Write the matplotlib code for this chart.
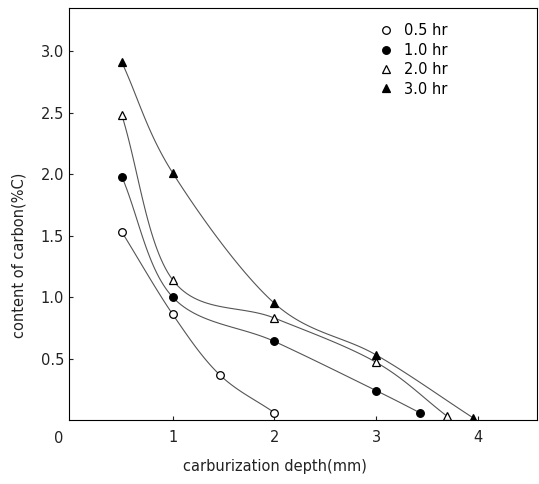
import numpy as np
import matplotlib
matplotlib.use('Agg')
import matplotlib.pyplot as plt

# depth (mm) and carbon content (%C)
x_05 = [0.5, 1.0, 1.46, 2.0]
y_05 = [1.53, 0.86, 0.37, 0.06]
x_10 = [0.5, 1.0, 2.0, 3.0, 3.43]
y_10 = [1.98, 1.00, 0.64, 0.24, 0.06]
x_20 = [0.5, 1.0, 2.0, 3.0, 3.70]
y_20 = [2.48, 1.14, 0.83, 0.47, 0.03]
x_30 = [0.5, 1.0, 2.0, 3.0, 3.95]
y_30 = [2.91, 2.01, 0.95, 0.53, 0.02]

labels = ['0.5 hr', '1.0 hr', '2.0 hr', '3.0 hr']
markers = ['o', 'o', '^', '^']
fills = ['white', 'black', 'white', 'black']
y_ticks = [0.5, 1.0, 1.5, 2.0, 2.5, 3.0]
x_ticks = [1, 2, 3, 4]


def smooth(xs, ys, n=30):
    # catmull-rom through the read points, only for drawing the curve
    p = np.column_stack([xs, ys]).astype(float)
    p = np.vstack([2 * p[0] - p[1], p, 2 * p[-1] - p[-2]])
    out = []
    t = np.linspace(0, 1, n)[:, None]
    for i in range(1, len(p) - 2):
        p0, p1, p2, p3 = p[i - 1], p[i], p[i + 1], p[i + 2]
        seg = 0.5 * ((2 * p1) + (-p0 + p2) * t + (2 * p0 - 5 * p1 + 4 * p2 - p3) * t ** 2
                     + (-p0 + 3 * p1 - 3 * p2 + p3) * t ** 3)
        out.append(seg)
    out = np.vstack(out)
    return out[:, 0], out[:, 1]


fig = plt.figure(figsize=(5.39, 4.84), dpi=100)
ax = fig.add_axes([0.128, 0.132, 0.868, 0.851])

series = [(x_05, y_05), (x_10, y_10), (x_20, y_20), (x_30, y_30)]
for (xs, ys), lab, m, fc in zip(series, labels, markers, fills):
    sx, sy = smooth(xs, ys)
    ax.plot(sx, sy, color='#555555', lw=0.8)
    ax.plot(xs, ys, ls='none', marker=m, ms=5.5, mfc=fc, mec='black', mew=0.9, label=lab)

ax.set_xlim(-0.02, 4.58)
ax.set_ylim(0, 3.35)
ax.set_xticks(x_ticks)
ax.set_yticks(y_ticks)
ax.set_yticklabels(['%.1f' % v for v in y_ticks])
ax.tick_params(direction='in', length=3, labelsize=10.5, colors='#222222')
ax.tick_params(axis='x', pad=7)
ax.text(-0.17, -0.027, '0', transform=ax.get_xaxis_transform(), fontsize=10.5,
        color='#222222', va='top')

ax.set_xlabel('carburization depth(mm)', fontsize=10.5, color='#222222')
ax.xaxis.set_label_coords(0.44, -0.095)
ax.set_ylabel('content of carbon(%C)', fontsize=10.5, color='#222222')
ax.yaxis.set_label_coords(-0.09, 0.4)

ax.legend(loc='upper left', bbox_to_anchor=(0.635, 0.995), frameon=False,
          handletextpad=0.7, labelspacing=0.3, fontsize=10.5, handlelength=1)

fig.savefig('out.png', dpi=100)
